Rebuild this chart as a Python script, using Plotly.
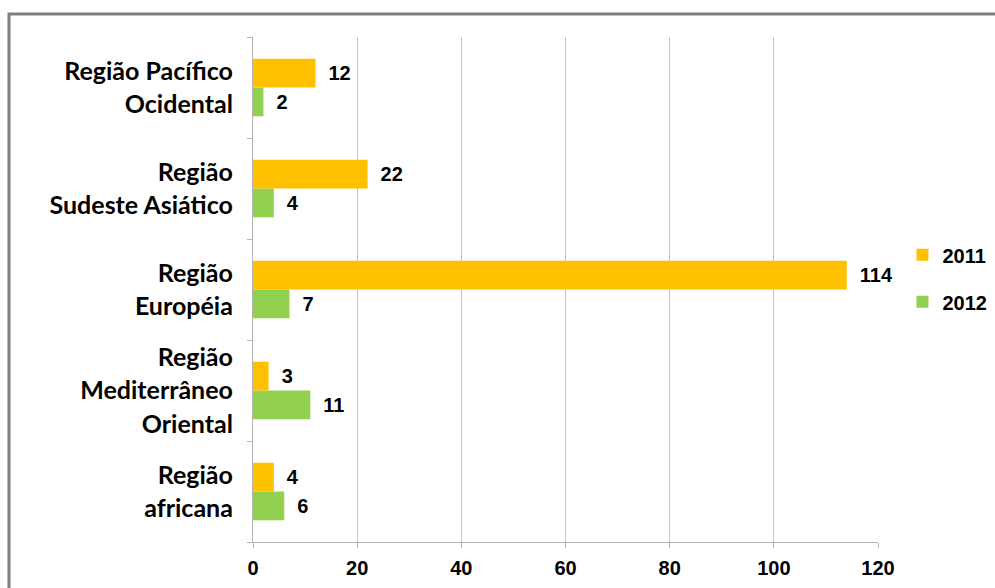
import plotly.graph_objects as go

# Regions listed bottom-to-top as they appear on the category axis
regions = [
    "Região africana",
    "Região Mediterrâneo Oriental",
    "Região Européia",
    "Região Sudeste Asiático",
    "Região Pacífico Ocidental",
]
region_labels = [
    ["Região", "africana"],
    ["Região", "Mediterrâneo", "Oriental"],
    ["Região", "Européia"],
    ["Região", "Sudeste Asiático"],
    ["Região Pacífico", "Ocidental"],
]
cases_2011 = [4, 3, 114, 22, 12]
cases_2012 = [6, 11, 7, 4, 2]
x_ticks = [0, 20, 40, 60, 80, 100, 120]

COLOR_2011 = "#FFC000"
COLOR_2012 = "#92D050"
ARIAL = "Liberation Sans, Arial"
LABEL_FONT = dict(family=ARIAL, size=20, color="black")

# Wider line pitch for the region labels: the axis font sets the line spacing,
# the inner span sets the glyph size.
ticktext = [
    "<br>".join(f"<span style='font-size:25px'><b>{ln}</b></span>" for ln in lines)
    for lines in region_labels
]

fig = go.Figure()
# 2012 first so that 2011 sits on top within each horizontal group
fig.add_trace(go.Bar(
    y=regions, x=cases_2012, name="<b>2012</b>", orientation="h",
    marker=dict(color=COLOR_2012, line=dict(width=0)),
    text=cases_2012, texttemplate="<b>\u2002%{x}</b>", textposition="outside",
    textfont=dict(family=ARIAL, size=20, color="black"),
    cliponaxis=False, legendrank=2, legendgroup="b",
))
fig.add_trace(go.Bar(
    y=regions, x=cases_2011, name="<b>2011</b>", orientation="h",
    marker=dict(color=COLOR_2011, line=dict(width=0)),
    text=cases_2011, texttemplate="<b>\u2002%{x}</b>", textposition="outside",
    textfont=dict(family=ARIAL, size=20, color="black"),
    cliponaxis=False, legendrank=1, legendgroup="a",
))

fig.update_layout(
    width=995, height=588,
    margin=dict(l=253, r=117, t=37, b=46),
    paper_bgcolor="white", plot_bgcolor="white",
    barmode="group", bargap=0.43, bargroupgap=0,
    showlegend=True,
    legend=dict(
        xref="container", yref="container",
        x=0.907, y=0.6, xanchor="left", yanchor="top",
        font=dict(family=ARIAL, size=20, color="black"),
        traceorder="grouped", tracegroupgap=18,
        itemwidth=30, bgcolor="rgba(0,0,0,0)",
    ),
    xaxis=dict(
        range=[0, 120], tickvals=x_ticks,
        ticktext=[f"<b>{v}</b>" for v in x_ticks],
        tickfont=LABEL_FONT,
        showgrid=True, gridcolor="#c6c6c6", gridwidth=1,
        showline=True, linecolor="#b4b4b4", linewidth=1,
        ticks="outside", ticklen=5, tickcolor="#b4b4b4",
        ticklabelstandoff=3, automargin=False,
        zeroline=False, fixedrange=True,
    ),
    yaxis=dict(
        categoryorder="array", categoryarray=regions,
        tickvals=regions, ticktext=ticktext,
        tickfont=dict(family="Lato, Carlito, Calibri", size=25.5, color="black"),
        showline=True, linecolor="#b4b4b4", linewidth=1,
        ticks="outside", tickson="boundaries", ticklen=5, tickcolor="#b4b4b4",
        ticklabelstandoff=14, automargin=False,
        showgrid=False, fixedrange=True,
    ),
    shapes=[dict(
        type="rect", xref="paper", yref="paper",
        x0=-0.3904, x1=1.2, y0=-0.11, y1=1.0455,
        line=dict(color="#7f7f7f", width=3), fillcolor="rgba(0,0,0,0)",
        layer="below",
    )],
)

fig.write_html("out.html")
